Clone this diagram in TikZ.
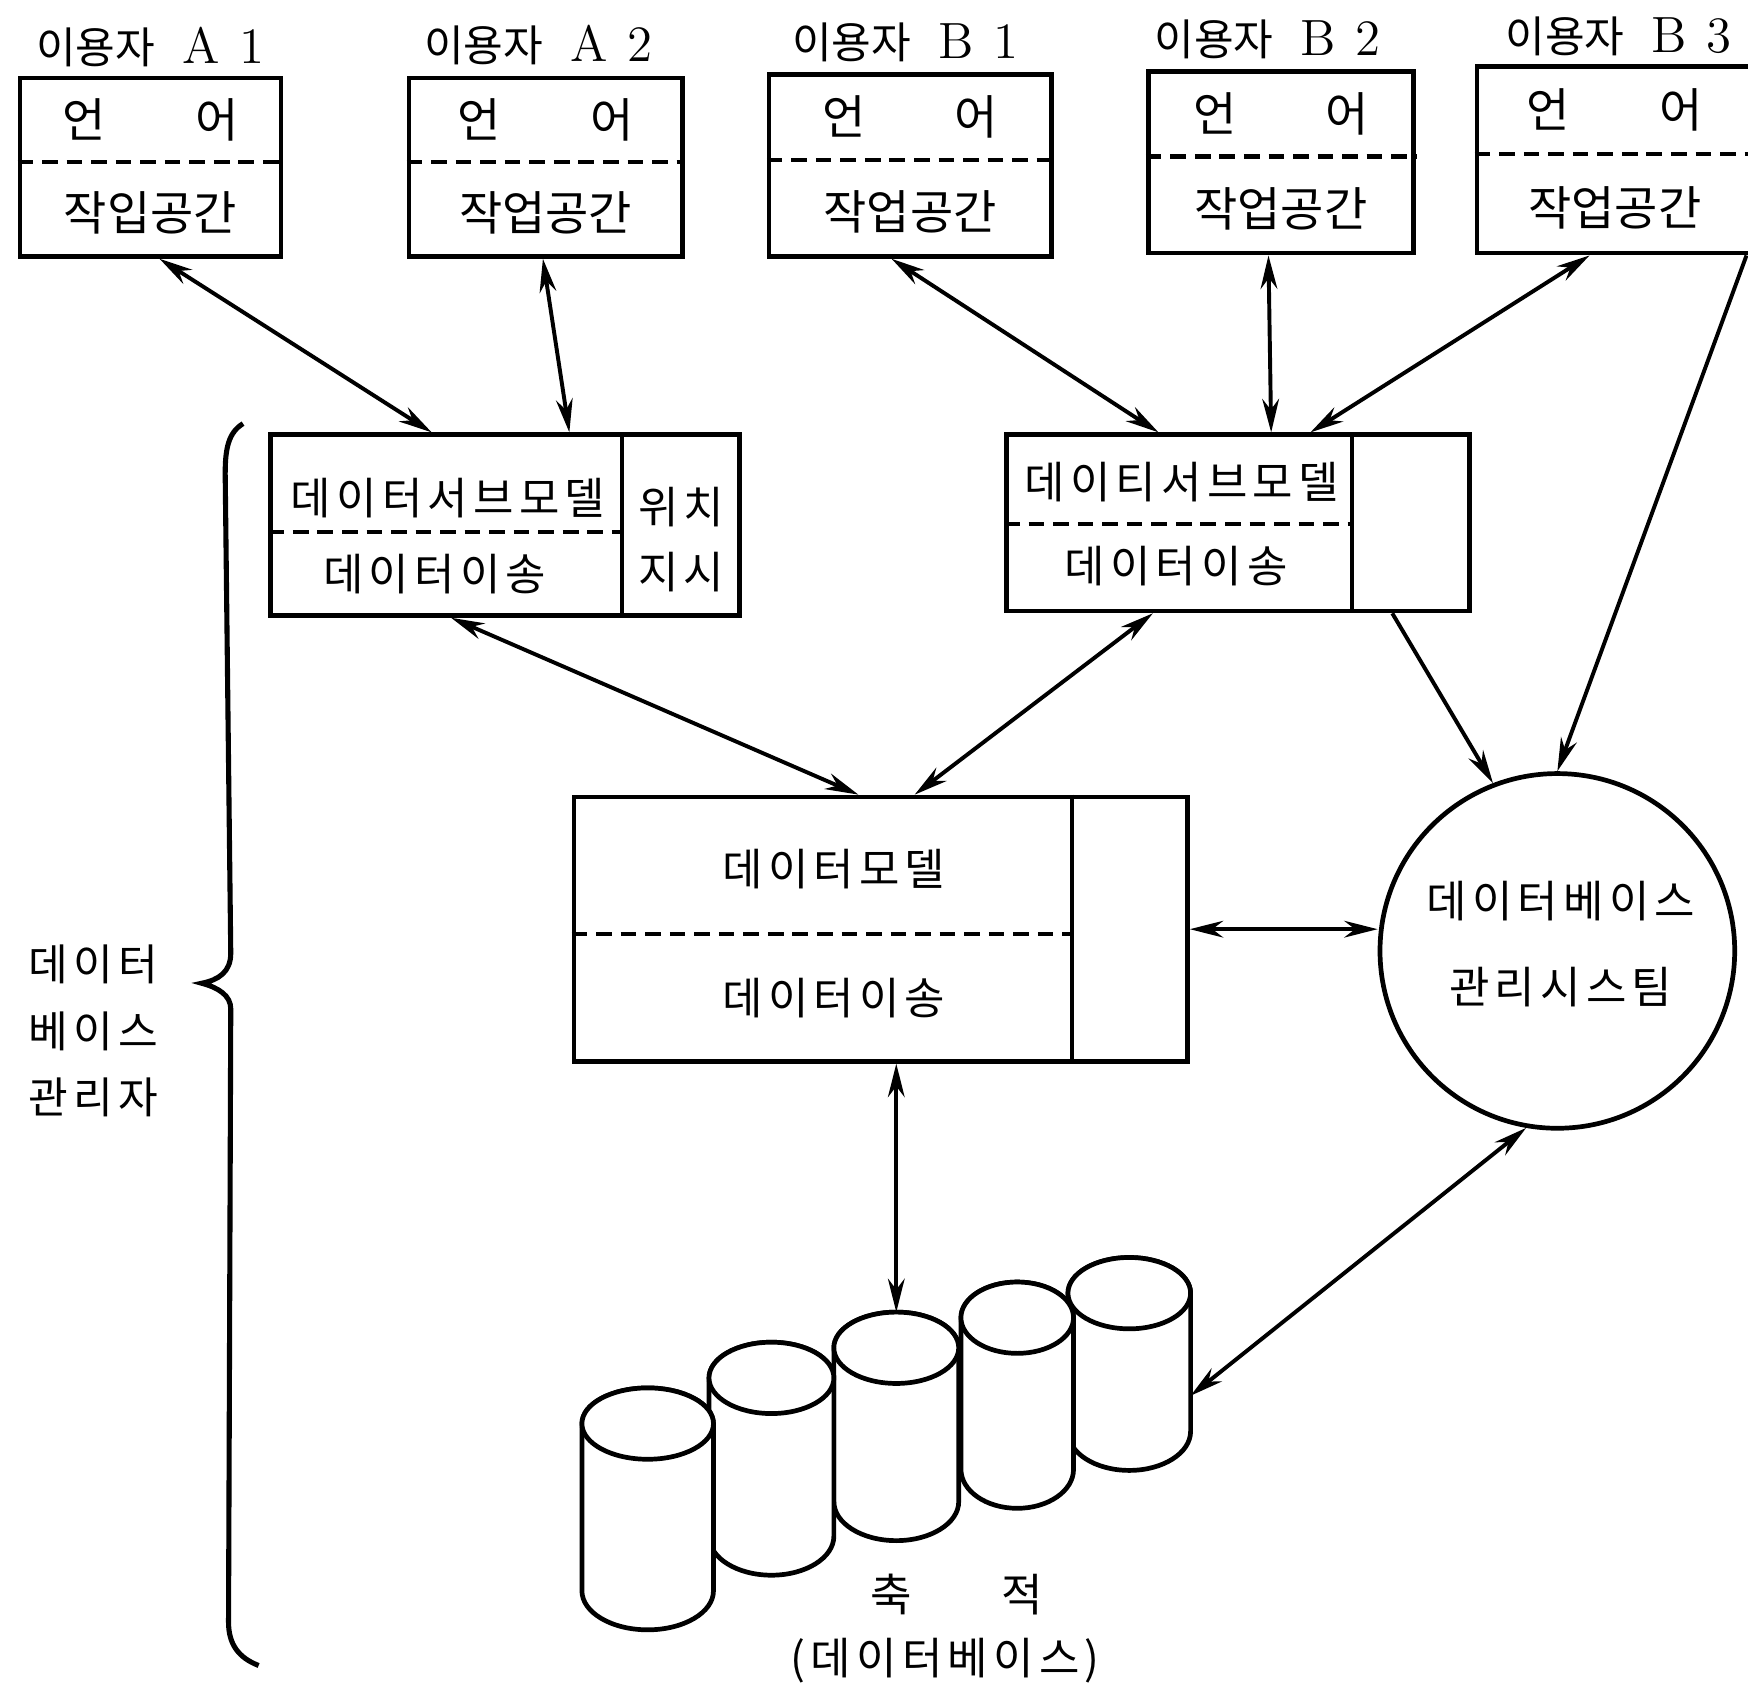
\documentclass[tikz,border=0pt]{standalone}
\usepackage{fontspec}
\newfontfamily\kr{Noto Sans CJK KR}
\newfontfamily\krsp[LetterSpace=12]{Noto Sans CJK KR}
\usetikzlibrary{arrows.meta,calc}

% one storage cylinder: #1 name, #2 left x, #3 right x, #4 top centre y, #5 bottom centre y
\newcommand\dbcyl[5]{%
  \pgfmathsetmacro\cylrx{(#3-#2)/2}%
  \pgfmathsetmacro\cylxc{(#3+#2)/2}%
  \filldraw[cylline] (#2,#4) -- (#2,#5)
    arc[start angle=180,end angle=0,x radius=\cylrx,y radius=35]
    -- (#3,#4)
    arc[start angle=0,end angle=-180,x radius=\cylrx,y radius=32] -- cycle;
  \draw[cylline] (\cylxc,#4) ellipse[x radius=\cylrx,y radius=32];
  \coordinate (#1top) at (\cylxc,#4-32);
}

\begin{document}
\begin{tikzpicture}[x=0.01cm,y=-0.01cm,
  frame/.style={draw,line width=1.2pt,inner sep=0pt},
  sep/.style={line width=1pt},
  dsh/.style={line width=1.1pt,dash pattern=on 0.14cm off 0.08cm},
  cylline/.style={line width=1.2pt,fill=white},
  tip/.tip={Stealth[length=3mm,width=1.5mm]},
  link/.style={line width=1pt,tip-tip},
  oneway/.style={line width=1pt,-tip},
  ttl/.style={font=\fontsize{11}{13}\kr,inner sep=0pt},
  big/.style={font=\fontsize{12}{14}\kr,inner sep=0pt},
  lbl/.style={font=\fontsize{11.2}{13}\krsp,inner sep=0pt},
]
\useasboundingbox (0,0) rectangle (1568,1515);

% ---------- users ----------
\node[ttl] (ta1) at (135,42) {이용자\hspace{7pt}{\fontsize{13}{14}\rmfamily A\hspace{5pt}1}};
\node[ttl] (ta2) at (483,40) {이용자\hspace{7pt}{\fontsize{13}{14}\rmfamily A\hspace{5pt}2}};
\node[ttl] (tb1) at (812,38) {이용자\hspace{7pt}{\fontsize{13}{14}\rmfamily B\hspace{5pt}1}};
\node[ttl] (tb2) at (1137,35) {이용자\hspace{7pt}{\fontsize{13}{14}\rmfamily B\hspace{5pt}2}};
\node[ttl] (tb3) at (1452,33) {이용자\hspace{7pt}{\fontsize{13}{14}\rmfamily B\hspace{5pt}3}};

\node[frame,minimum width=2.34cm,minimum height=1.60cm] (a1) at (135,150) {};
\node[frame,minimum width=2.45cm,minimum height=1.60cm] (a2) at (489.5,150) {};
\node[frame,minimum width=2.53cm,minimum height=1.63cm] (b1) at (816.5,148.5) {};
\node[frame,minimum width=2.38cm,minimum height=1.63cm] (b2) at (1149,145.5) {};
\node[frame,minimum width=2.47cm,minimum height=1.67cm] (b3) at (1448.5,143.5) {};

\foreach \u/\w in {a1/작입공간,a2/작업공간,b1/작업공간,b2/작업공간,b3/작업공간}{
  \node[big] (\u lang) at ($(\u.north)!0.24!(\u.south)$) {언\hspace{0.8cm}어};
  \node[big] (\u work) at ($(\u.north)!0.75!(\u.south)$) {\w};
  \draw[dsh] ($(\u.north west)!0.47!(\u.south west)$) -- ($(\u.north east)!0.47!(\u.south east)$);
}

% ---------- data sub-model A ----------
\node[frame,minimum width=4.20cm,minimum height=1.62cm] (dsma) at (453,471) {};
\draw[sep] (558,0 |- dsma.north) -- (558,0 |- dsma.south);
\draw[dsh] (dsma.west |- 0,477) -- (558,477);
\node[lbl] (dsmaname) at (402,447) {데이터서브모델};
\node[lbl] (dsmamove) at (390,515) {데이터이송};
\node[lbl] (dsmapos) at (611,455) {위치};
\node[lbl] (dsmaptr) at (611,513) {지시};

% ---------- data sub-model B ----------
\node[frame,minimum width=4.15cm,minimum height=1.58cm] (dsmb) at (1110.5,469) {};
\draw[sep] (1213,0 |- dsmb.north) -- (1213,0 |- dsmb.south);
\draw[dsh] (dsmb.west |- 0,470) -- (1213,470);
\node[lbl] (dsmbname) at (1060,432) {데이티서브모델};
\node[lbl] (dsmbmove) at (1055,508) {데이터이송};

% ---------- data model ----------
\node[frame,minimum width=5.50cm,minimum height=2.37cm] (dm) at (790,833.5) {};
\draw[sep] (962,0 |- dm.north) -- (962,0 |- dm.south);
\draw[dsh] (dm.west |- 0,838) -- (962,838);
\node[lbl] (dmname) at (748,780) {데이터모델};
\node[lbl] (dmmove) at (748,895) {데이터이송};

% ---------- DBMS ----------
\node[draw,circle,line width=1.2pt,inner sep=0pt,minimum size=3.18cm] (dbms) at (1397,853) {};
\node[lbl] (dbmsl1) at (1400,808) {데이터베이스};
\node[lbl] (dbmsl2) at (1400,885) {관리시스팀};

% ---------- administrator and brace ----------
\node[font=\fontsize{11}{17}\krsp,inner sep=0pt,align=left] (admin) at (84,925) {데이터\\베이스\\관리자};
\draw[line width=1.3pt] (218,380) .. controls (205,388) and (202,402) .. (202,425)
  -- (207,855) .. controls (207,872) and (196,879) .. (181,882)
  .. controls (196,886) and (207,893) .. (207,905)
  -- (205,1455) .. controls (205,1475) and (214,1487) .. (232,1494);

% ---------- stored database ----------
\dbcyl{c5}{958}{1068}{1160}{1284}
\dbcyl{c4}{862}{963}{1182}{1318}
\dbcyl{c3}{748}{860}{1209}{1347}
\dbcyl{c2}{636}{748}{1236}{1378}
\dbcyl{c1}{522}{640}{1277}{1427}
\coordinate (c5side) at (1068,1252);
\node[font=\fontsize{11.5}{13}\kr,inner sep=0pt] (store) at (858,1430) {축\hspace{0.8cm}적};
\node[lbl] (storedb) at (848,1490) {(데이터베이스)};

% ---------- connectors ----------
\draw[link] ($(a1.south west)!0.534!(a1.south east)$) -- ($(dsma.north west)!0.345!(dsma.north east)$);
\draw[link] ($(a2.south west)!0.49!(a2.south east)$) -- ($(dsma.north west)!0.636!(dsma.north east)$);
\draw[link] ($(b1.south west)!0.435!(b1.south east)$) -- ($(dsmb.north west)!0.33!(dsmb.north east)$);
\draw[link] ($(b2.south west)!0.454!(b2.south east)$) -- ($(dsmb.north west)!0.571!(dsmb.north east)$);
\draw[link] ($(b3.south west)!0.41!(b3.south east)$) -- ($(dsmb.north west)!0.655!(dsmb.north east)$);
\draw[oneway] ($(b3.south west)!0.97!(b3.south east)$) -- (dbms.north);
\draw[oneway] ($(dsmb.south west)!0.83!(dsmb.south east)$) -- (dbms.111);
\draw[link] ($(dsma.south west)!0.386!(dsma.south east)$) -- ($(dm.north west)!0.464!(dm.north east)$);
\draw[link] ($(dsmb.south west)!0.318!(dsmb.south east)$) -- ($(dm.north west)!0.555!(dm.north east)$);
\draw[link] (dm.east) -- (dm.east -| dbms.west);
\draw[link] (c3top |- dm.south) -- (c3top);
\draw[link] (dbms.260) -- (c5side);
\end{tikzpicture}
\end{document}
